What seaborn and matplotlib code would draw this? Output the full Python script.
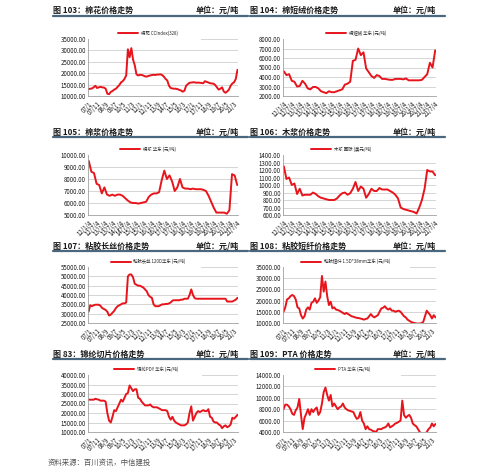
import numpy as np
import matplotlib
matplotlib.use("Agg")
import matplotlib.pyplot as plt
import seaborn as sns
from matplotlib.patches import Rectangle
from matplotlib.ticker import FuncFormatter

sns.set_style("white")
plt.rcParams['font.family'] = ['Noto Sans CJK SC', 'DejaVu Sans']

# x tick labels
labels_07 = ["07/1", "07/11", "08/9", "09/7", "10/5", "11/3", "12/1", "12/11", "13/9",
             "14/7", "15/5", "16/3", "17/1", "17/11", "18/9", "19/7", "20/5", "21/3"]
labels_12 = ["12/1/4", "12/7/4", "13/1/4", "13/7/4", "14/1/4", "14/7/4", "15/1/4",
             "15/7/4", "16/1/4", "16/7/4", "17/1/4", "17/7/4", "18/1/4", "18/7/4",
             "19/1/4", "19/7/4", "20/1/4", "20/7/4", "21/1/4", "21/7/4"]

# series, one value every two months
cotton = [13000, 13200, 13300, 13800, 14500, 13500,
          13800, 14000, 13800, 13700, 13200, 11000,
          10800, 11800, 12200, 12800, 13200, 14000,
          14800, 16000, 16500, 17500, 19000, 30500,
          27000, 31000, 26000, 23500, 19500, 19000,
          19300, 19200, 19000, 18600, 18500, 18800,
          19000, 19200, 19300, 19200, 19400, 19400,
          19500, 19200, 18500, 17500, 16800, 14500,
          13500, 13300, 13200, 13200, 13000, 12700,
          12400, 11900, 12300, 14500, 15200, 15800,
          15900, 16000, 16000, 15800, 15900, 15800,
          15700, 15600, 16500, 16200, 15900, 15600,
          15500, 15400, 14800, 13800, 12800, 13200,
          13800, 12000, 11400, 12000, 12800, 14500,
          15500, 16000, 17500, 21500]

linter = [4600, 4200, 4300, 3600, 3500, 3000, 3050, 3600, 3300, 2800,
          2700, 2950, 2950, 2800, 2500, 2400, 2300, 2500, 2400, 2400,
          2500, 2600, 2700, 3200, 3300, 3500, 5700, 5800, 7000, 6300,
          6600, 4900, 4500, 4100, 3900, 4200, 4100, 3800, 3800, 3750,
          3700, 3700, 3800, 3800, 3800, 3750, 3850, 3650, 3650, 3650,
          3650, 3650, 3700, 4000, 4300, 5500, 5000, 6800]

cotton_pulp = [9500, 8600, 8500, 7600, 7500, 6800, 7300, 6700, 6600, 6700,
               6600, 6700, 6700, 6600, 6400, 6200, 6050, 6000, 6000, 5950,
               6000, 6050, 6100, 6500, 6700, 6800, 6800, 6900, 7900, 8700,
               8000, 8300, 7800, 7000, 7300, 8000, 7300, 7200, 7200, 7150,
               7200, 7150, 7150, 7150, 7100, 7000, 6600, 6100, 5600, 5200,
               5200, 5200, 5200, 5100, 5400, 8400, 8300, 7500]

wood_pulp = [1250, 1080, 1100, 1000, 1020, 880, 950, 860, 870, 870,
             870, 900, 880, 850, 830, 820, 810, 800, 800, 800,
             820, 860, 890, 900, 870, 890, 950, 1040, 920, 980,
             950, 830, 880, 950, 920, 920, 960, 940, 940, 940,
             920, 900, 870, 820, 700, 680, 670, 660, 650, 640,
             620, 700, 800, 950, 1200, 1180, 1180, 1130]

viscose_filament = [31000, 34500, 34000, 34500, 34800, 34800, 34800, 34200, 33000, 32500,
                    32000, 31000, 29000, 29500, 30500, 31500, 33000, 34000, 34500, 35000,
                    35500, 35500, 36000, 50000, 51000, 51000, 49500, 46000, 45500, 45000,
                    45000, 44500, 44000, 43000, 42000, 40000, 39000, 38500, 35000, 34000,
                    34000, 34000, 34500, 35000, 35000, 35200, 35200, 35500, 36000, 37000,
                    37200, 37200, 37200, 37200, 37500, 37500, 38000, 38000, 38000, 40000,
                    43000, 40000, 38300, 38000, 38000, 38000, 38000, 38000, 38000, 38000,
                    38000, 38000, 38000, 38000, 38000, 38000, 38000, 38000, 38000, 38000,
                    38000, 36500, 36500, 36500, 36500, 37000, 37500, 38500]

viscose_staple = [15000, 17000, 20500, 21000, 22000, 22500, 22000, 20500, 17000, 16500,
                  13500, 12000, 13000, 16000, 17000, 16000, 19000, 19500, 21000, 19000,
                  20000, 21500, 31000, 24000, 28500, 22000, 18000, 19500, 16500, 17000,
                  16000, 15800, 15500, 15000, 14500, 14000, 14500, 14000, 13500, 13000,
                  12800, 12500, 12300, 12200, 12000, 11800, 11500, 11800, 12000, 13000,
                  14000, 13000, 12500, 13000, 13500, 15000, 16500, 16800, 17500, 16500,
                  16000, 16500, 15500, 15500, 15000, 15300, 15500, 15000, 14000, 13000,
                  12500, 11500, 11000, 10500, 10200, 10000, 9800, 9700, 9800, 9900,
                  10500, 13000, 15500, 14500, 13500, 12000, 13500, 12500]

nylon_chip = [27000, 27000, 27000, 27000, 27500, 27200, 27000, 26500, 26500, 26500,
              26000, 20000, 16000, 15000, 18000, 21500, 21000, 23000, 25000, 27000,
              26000, 28000, 30000, 30500, 34500, 33000, 31500, 32500, 32500, 28000,
              27500, 26000, 25000, 24000, 24000, 24000, 24500, 23500, 23000, 23000,
              23000, 22500, 22000, 21500, 21500, 21500, 21000, 18000, 16500, 18000,
              16000, 15000, 14500, 14000, 13500, 13500, 13500, 14000, 15000, 20000,
              23500, 16000, 18000, 20000, 21000, 20500, 21000, 21500, 21000, 21000,
              22000, 18000, 17500, 15500, 15000, 15000, 14000, 13500, 12000, 13000,
              13500, 12500, 13000, 14000, 17500, 17000, 18000, 19000]

pta = [8000, 8800, 8800, 8500, 8000, 7200, 7000, 7800, 8300, 9800,
       7000, 4500, 6500, 7200, 8000, 7000, 8000, 7500, 8000, 8300,
       7000, 7500, 9000, 11000, 11800, 10500, 9500, 10500, 8500, 9000,
       8500, 8000, 8300, 8500, 9000, 8300, 8000, 7800, 7700, 7600,
       7500, 6800, 6300, 6500, 7500, 6000, 5500, 4500, 5000, 4500,
       4400, 4200, 4100, 4000, 4500, 4500, 4500, 4700, 4800, 5000,
       5500, 4800, 5000, 5200, 5500, 5600, 5800, 6000, 9500, 7000,
       6500, 6800, 7000, 6500, 5500, 5200, 5000, 4500, 4000, 3600,
       3500, 3500, 4000, 4500, 4800, 5500, 5000, 5400]

RED = "#e8141b"
BAR = "#4a6780"
W, H = 500, 475

fig = plt.figure(figsize=(5, 4.75), dpi=100)


def px_axes(x0, y0, x1, y1):
    return fig.add_axes([x0 / W, 1 - y1 / H, (x1 - x0) / W, (y1 - y0) / H])


def header(x0, x1, y_text, y_line, title):
    fig.text(x0 / W, 1 - y_text / H, title, fontsize=5.8, fontweight='bold',
             va='center', ha='left', color='#1a1a1a')
    fig.text((x1 - 9) / W, 1 - y_text / H, "单位：元/吨", fontsize=5.8, fontweight='bold',
             va='center', ha='right', color='#1a1a1a')
    fig.add_artist(plt.Line2D([x0 / W, x1 / W], [1 - y_line / H] * 2, color=BAR, lw=1.6))


def panel(ax, values, legend, xlabels, step, yticks, cover, leg_x):
    x = np.arange(len(values))
    sns.lineplot(x=x, y=values, ax=ax, color=RED, lw=1.4, label=legend)
    ax.set_ylim(yticks[0], yticks[-1])
    ax.set_yticks(yticks)
    ax.yaxis.set_major_formatter(FuncFormatter(lambda v, _: f"{v:.2f}"))
    ax.set_xlim(-0.3, len(values) - 0.7)
    ax.set_xticks(x[::step][:len(xlabels)])
    ax.set_xticklabels(xlabels, rotation=45, ha='right', rotation_mode='anchor')
    ax.tick_params(axis='both', labelsize=4.4, length=1.5, width=0.5, pad=1.5,
                   colors='#999999', labelcolor='#1a1a1a')
    ax.tick_params(axis='y', length=0)
    ax.grid(axis='y', color='#cfcfcf', lw=0.6)
    ax.set_axisbelow(True)
    for s in ['top', 'right']:
        ax.spines[s].set_visible(False)
    for s in ['left', 'bottom']:
        ax.spines[s].set_color('#a0a0a0')
        ax.spines[s].set_linewidth(0.6)
    ax.set_xlabel("")
    ax.set_ylabel("")
    ax.add_patch(Rectangle((0.004, 0.97), cover - 0.004, 0.06, transform=ax.transAxes,
                           facecolor='white', edgecolor='none', zorder=1.8, clip_on=False))
    ax.legend(loc='center', bbox_to_anchor=(leg_x, 1.1), frameon=False, fontsize=3.2,
              handlelength=4.5, handletextpad=0.6, borderpad=0)


LEFT = (88, 238)
RIGHT = (283, 436)
rows = [(10, 16, 39, 96), (132, 137, 155, 215), (246, 251, 267, 323), (354, 359, 375, 432)]

panels = [
    ("图 103：棉花价格走势", "棉花 CCIndex(328)", cotton, labels_07, 5,
     [10000, 15000, 20000, 25000, 30000, 35000], 0.75, 0.4, 0, 0),
    ("图 104：棉短绒价格走势", "棉短绒 华东 (元/吨)", linter, labels_12, 3,
     [2000, 3000, 4000, 5000, 6000, 7000, 8000], 1.0, 0.48, 1, 0),
    ("图 105：棉浆价格走势", "棉浆 华东 (元/吨)", cotton_pulp, labels_12, 3,
     [5000, 6000, 7000, 8000, 9000, 10000], 1.0, 0.4, 0, 1),
    ("图 106：木浆价格走势", "木浆 国际 (美元/吨)", wood_pulp, labels_12, 3,
     [600, 700, 800, 900, 1000, 1100, 1200, 1300, 1400], 1.0, 0.38, 1, 1),
    ("图 107：粘胶长丝价格走势", "粘胶长丝 120D华东 (元/吨)", viscose_filament, labels_07, 5,
     [25000, 30000, 35000, 40000, 45000, 50000, 55000], 0.75, 0.4, 0, 2),
    ("图 108：粘胶短纤价格走势", "粘胶短纤 1.5D*38mm华东 (元/吨)", viscose_staple, labels_07, 5,
     [10000, 15000, 20000, 25000, 30000, 35000], 0.83, 0.41, 1, 2),
    ("图 83：锦纶切片价格走势", "锦纶PDY 华东 (元/吨)", nylon_chip, labels_07, 5,
     [10000, 15000, 20000, 25000, 30000, 35000, 40000], 0.76, 0.39, 0, 3),
    ("图 109：PTA 价格走势", "PTA 华东 (元/吨)", pta, labels_07, 5,
     [4000, 6000, 8000, 10000, 12000, 14000], 0.77, 0.39, 1, 3),
]

for title, legend, values, xlabels, step, yticks, cover, leg_x, col, row in panels:
    y_text, y_line, top, bottom = rows[row]
    x0, x1 = LEFT if col == 0 else RIGHT
    head_x0, head_x1 = (53, 248) if col == 0 else (250, 445)
    header(head_x0, head_x1, y_text, y_line, title)
    ax = px_axes(x0, top, x1, bottom)
    panel(ax, values, legend, xlabels, step, yticks, cover, leg_x)

fig.text(48 / W, 1 - 463 / H, "资料来源：百川资讯，中信建投", fontsize=5.3,
         color='#555555', va='center', ha='left', style='italic')

fig.savefig("out.png", dpi=100)
